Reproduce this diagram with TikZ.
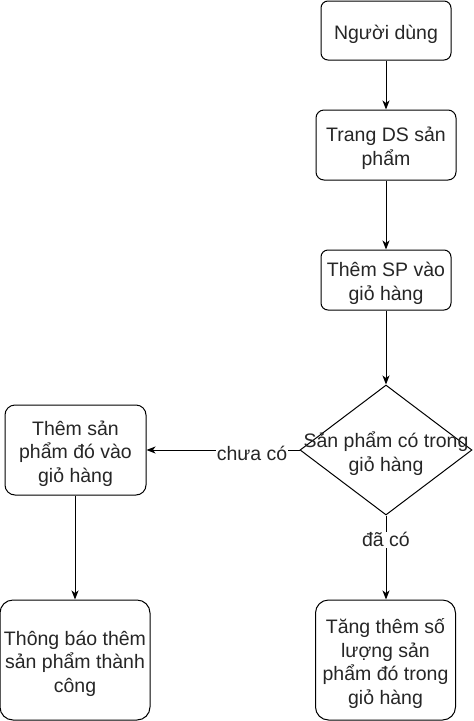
\documentclass[tikz,border=0pt]{standalone}
\usepackage{fontspec}
\setmainfont{Liberation Sans}
\usetikzlibrary{shapes.geometric,arrows.meta}
\begin{document}
\begin{tikzpicture}[x=1pt,y=-1pt,
  every node/.style={font=\fontsize{19.5}{23.5}\selectfont, text=black!85},
  box/.style={draw, line width=1pt, inner sep=0pt, fill=white},
  txt/.style={align=center, inner sep=0pt, yshift=-3.5pt},
  arr/.style={draw, line width=1pt, -{Stealth[length=9pt,width=7pt,inset=2.5pt]}},
  lbl/.style={fill=white, inner sep=1pt}]
\useasboundingbox (0,0) rectangle (474,721);
\node[box, rounded corners=7pt, minimum width=130pt, minimum height=59pt] (u) at (386,30.5) {};
\node[txt] (ut) at (u) {Người dùng};
\node[box, rounded corners=8pt, minimum width=140pt, minimum height=70pt] (t) at (386,145) {};
\node[txt] (tt) at (t) {Trang DS sản\\phẩm};
\node[box, rounded corners=7pt, minimum width=130pt, minimum height=60pt] (s) at (386,280) {};
\node[txt] (st) at (s) {Thêm SP vào\\giỏ hàng};
\node[draw, line width=1pt, diamond, inner sep=0pt, minimum width=172pt, minimum height=130pt] (d) at (386,450) {};
\node[txt] (dt) at (d) {Sản phẩm có trong\\giỏ hàng};
\node[box, rounded corners=10pt, minimum width=141pt, minimum height=90pt] (a) at (75.5,450) {};
\node[txt] (at) at (a) {Thêm sản\\phẩm đó vào\\giỏ hàng};
\node[box, rounded corners=13pt, minimum width=150pt, minimum height=120pt] (n) at (75,660) {};
\node[txt] (nt) at (n) {Thông báo thêm\\sản phẩm thành\\công};
\node[box, rounded corners=13pt, minimum width=140pt, minimum height=120pt] (g) at (385.5,660) {};
\node[txt] (gt) at (g) {Tăng thêm số\\lượng sản\\phẩm đó trong\\giỏ hàng};
\draw[arr] (u) -- (t);
\draw[arr] (t) -- (s);
\draw[arr] (s) -- (d.north);
\draw[arr] (d.west) -- node[lbl, pos=0.31, yshift=-3pt] {chưa có} (a.east);
\draw[arr] (d.south) -- node[lbl, pos=0.29] {đã có} (g.north -| d.south);
\draw[arr] (a.south -| n.north) -- (n.north);
\end{tikzpicture}
\end{document}
